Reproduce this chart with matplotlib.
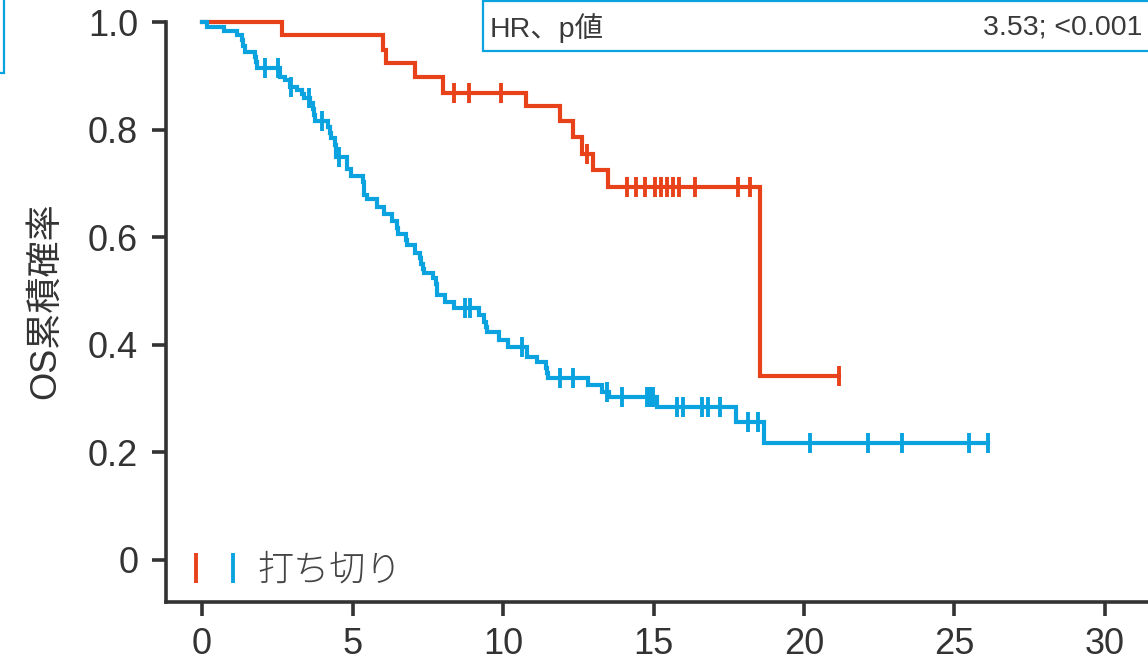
import numpy as np
import matplotlib.pyplot as plt
from matplotlib.patches import Rectangle
from matplotlib.lines import Line2D
from matplotlib.legend_handler import HandlerTuple

plt.rcParams['font.family'] = ['Liberation Sans', 'Noto Sans CJK JP', 'DejaVu Sans']

RED = '#E8421B'
BLUE = '#0AA3DF'
INK = '#333333'

# 赤群: イベント時点と生存率
red_t = [0, 2.66, 6.01, 6.11, 7.08, 8.01, 10.76, 11.89, 12.33, 12.61, 12.98, 13.48, 18.54]
red_s = [1.0, 0.976, 0.948, 0.924, 0.897, 0.868, 0.844, 0.815, 0.786, 0.754, 0.724, 0.693, 0.341]
red_cens = [8.37, 8.87, 9.93, 12.78, 14.13, 14.42, 14.72, 15.05, 15.24, 15.44, 15.64,
            15.86, 16.38, 17.82, 18.21, 21.16]

# 青群
blue_t = [0, 0.17, 0.73, 1.16, 1.31, 1.37, 1.43, 1.76, 1.79, 1.83, 2.59, 2.76, 2.92, 3.16,
          3.32, 3.39, 3.59, 3.69, 3.72, 3.75, 4.19, 4.25, 4.27, 4.42, 4.44, 4.45, 4.82,
          4.83, 4.95, 5.35, 5.37, 5.38, 5.48, 5.81, 6.05, 6.31, 6.48, 6.50, 6.78, 6.81,
          7.08, 7.24, 7.26, 7.34, 7.36, 7.67, 7.77, 7.79, 7.81, 8.07, 8.37, 9.20, 9.37,
          9.44, 9.47, 9.87, 10.17, 10.80, 10.81, 11.13, 11.43, 11.46, 11.50, 12.82, 13.29,
          13.52, 15.12, 17.74, 18.67]
blue_s = [1.0, 0.991, 0.983, 0.975, 0.967, 0.955, 0.945, 0.935, 0.925, 0.914, 0.898, 0.892,
          0.880, 0.873, 0.867, 0.858, 0.849, 0.838, 0.827, 0.816, 0.805, 0.793, 0.784,
          0.771, 0.760, 0.749, 0.738, 0.727, 0.714, 0.703, 0.690, 0.679, 0.671, 0.656,
          0.643, 0.630, 0.617, 0.606, 0.594, 0.585, 0.570, 0.561, 0.550, 0.540, 0.533,
          0.524, 0.512, 0.501, 0.492, 0.479, 0.468, 0.455, 0.442, 0.433, 0.424, 0.408,
          0.395, 0.386, 0.377, 0.367, 0.356, 0.347, 0.338, 0.325, 0.311, 0.302, 0.284,
          0.256, 0.217]
blue_cens = [2.09, 2.52, 2.96, 3.55, 3.99, 4.55, 8.74, 8.90, 10.63, 11.89, 12.33, 13.46,
             13.95, 14.78, 14.88, 14.98, 15.78, 15.98, 16.61, 16.81, 17.21, 18.14, 18.47,
             20.20, 22.13, 23.26, 25.48, 26.11]

hr_label = 'HR、p値'
hr_value = '3.53; <0.001'

fig = plt.figure(figsize=(11.48, 6.65), dpi=100)
ax = fig.add_axes([166 / 1148, 63 / 665, 982 / 1148, 602 / 665])


def km(ax, t, s, cens, color):
    t = np.asarray(t)
    s = np.asarray(s)
    cens = np.asarray(cens)
    t_end = max(t[-1], cens.max())
    ax.step(np.append(t, t_end), np.append(s, s[-1]), where='post',
            color=color, lw=3.0, solid_joinstyle='miter', zorder=3)
    cy = s[np.searchsorted(t, cens, side='right') - 1]
    ax.plot(cens, cy, ls='none', marker='|', ms=15, mew=2.8, color=color, zorder=4)


km(ax, red_t, red_s, red_cens, RED)
km(ax, blue_t, blue_s, blue_cens, BLUE)

ax.set_xlim(-1.2, 31.43)
ax.set_ylim(-0.079, 1.041)
ax.set_xticks([0, 5, 10, 15, 20, 25, 30])
ax.set_yticks([0, 0.2, 0.4, 0.6, 0.8, 1.0])
ax.set_yticklabels(['0', '0.2', '0.4', '0.6', '0.8', '1.0'])
for sp in ['top', 'right']:
    ax.spines[sp].set_visible(False)
for sp in ['left', 'bottom']:
    ax.spines[sp].set_linewidth(2.6)
    ax.spines[sp].set_color(INK)
ax.spines['left'].set_bounds(-0.079, 1.0)
ax.tick_params(direction='out', length=10, width=2.6, color=INK,
               labelsize=26, labelcolor=INK)
ax.tick_params(axis='x', pad=8)
ax.tick_params(axis='y', pad=10)
ax.set_ylabel('OS累積確率', fontsize=26, color=INK, labelpad=18)

# 打ち切りの凡例
mk_r = Line2D([], [], ls='none', marker='|', ms=22, mew=2.8, color=RED)
mk_b = Line2D([], [], ls='none', marker='|', ms=22, mew=2.8, color=BLUE)
ax.legend([(mk_r, mk_b)], ['打ち切り'], handler_map={tuple: HandlerTuple(ndivide=None, pad=0.75)},
          loc='lower left', bbox_to_anchor=(-0.008, -0.033), frameon=False,
          prop={'family': ['Noto Sans CJK JP'], 'size': 26, 'weight': 'light'},
          labelcolor='#444444', handlelength=1.3, handletextpad=0.55)

# HR 表示枠
fig.add_artist(Rectangle((483 / 1148, 614 / 665), 0.6, 50 / 665, transform=fig.transFigure,
                         facecolor='white', edgecolor=BLUE, lw=1.6))
fig.text(490 / 1148, 637 / 665, hr_label, fontsize=20.5, color='#3a3a3a', va='center')
fig.text(1142 / 1148, 637 / 665, hr_value, fontsize=20.5, color='#3a3a3a', va='center', ha='right')

# 左上の枠
fig.add_artist(Rectangle((-0.1, 592 / 665), 0.1 + 4 / 1148, 0.2, transform=fig.transFigure,
                         facecolor='none', edgecolor=BLUE, lw=1.6))

fig.savefig('out.png', dpi=100)
